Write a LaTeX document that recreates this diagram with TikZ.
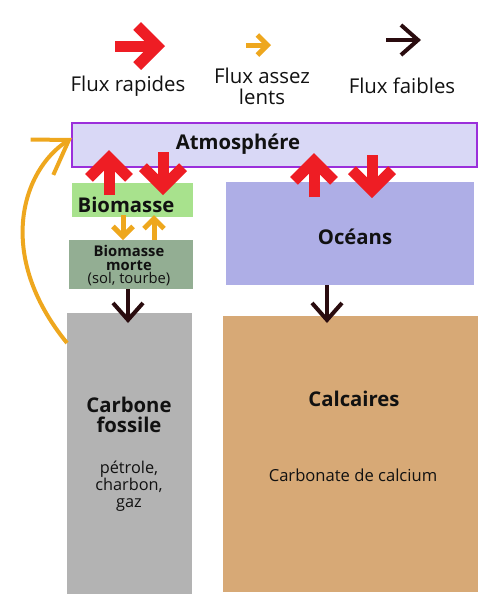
\documentclass[tikz,border=0pt]{standalone}
\usepackage{fontspec}
\setmainfont{Open Sans}
\usetikzlibrary{arrows.meta,positioning}

\definecolor{rouge}{HTML}{EE1D24}
\definecolor{ambre}{HTML}{EEA71E}
\definecolor{brun}{HTML}{2A0C0F}
\definecolor{cadre}{HTML}{9B2FDB}
\definecolor{ciel}{HTML}{D9D8F6}
\definecolor{vert}{HTML}{A8E28D}
\definecolor{sol}{HTML}{93AE93}
\definecolor{fossile}{HTML}{B3B3B3}
\definecolor{mer}{HTML}{AEAEE6}
\definecolor{calcaire}{HTML}{D7A976}
\definecolor{encre}{HTML}{111111}

\tikzset{
  boite/.style={anchor=north west, inner sep=0pt, outer sep=0pt},
  titre/.style={text=encre, font=\fontsize{20.3}{20.5}\selectfont\bfseries, align=center},
  texte/.style={text=encre, font=\fontsize{16.3}{17}\selectfont, align=center},
  legende/.style={text=encre, font=\fontsize{20.4}{21}\selectfont, align=center},
  fluxrapide/.style={draw=rouge, line width=11pt, -{Straight Barb[length=20pt,width=40pt]}},
  fluxlent/.style={draw=ambre, line width=5pt, -{Straight Barb[length=10pt,width=20pt]}},
  fluxfaible/.style={draw=brun, line width=4pt, -{Straight Barb[length=17pt,width=30pt]}}
}

\begin{document}
\begin{tikzpicture}[x=1pt,y=-1pt]
      \useasboundingbox (0, 0) rectangle (500, 606);

      % Legend
      \node[legende] (lrapide) at (128, 86) {Flux rapides};
      \node[legende] (llent) at (262, 86) {Flux assez\\lents};
      \node[legende] (lfaible) at (402, 86) {Flux faibles};
      \draw[fluxrapide] ([shift={(-13,-40)}]lrapide.center) -- ([shift={(37,-40)}]lrapide.center);
      \draw[fluxlent] ([shift={(-16,-41)}]llent.center) -- ([shift={(9,-41)}]llent.center);
      \draw[fluxfaible] ([shift={(-16,-46)}]lfaible.center) -- ([shift={(19,-46)}]lfaible.center);

      % Reservoirs
      \node[boite, fill=ciel, draw=cadre, line width=2pt, minimum width=405, minimum height=44] (atm) at (72, 123) {};
      \node[boite, fill=vert, minimum width=121, minimum height=34] (bio) at (72, 183) {};
      \node[boite, fill=sol, minimum width=124, minimum height=49] (morte) at (69, 240) {};
      \node[boite, fill=fossile, minimum width=125, minimum height=281] (fos) at (67, 313) {};
      \node[boite, fill=mer, minimum width=248, minimum height=103] (ocean) at (226, 182) {};
      \node[boite, fill=calcaire, minimum width=255, minimum height=276] (calc) at (223, 316) {};

      % Labels
      \node[titre] (tatm) at (238, 144) {Atmosphére};
      \node[titre] (tbio) at (126, 205) {Biomasse};
      \node[texte, font=\fontsize{14.8}{13.5}\selectfont] (tmorte) at (129, 266) {\textbf{Biomasse}\\\textbf{morte}\\(sol, tourbe)};
      \node[titre] (tfos) at (129, 415) {Carbone\\fossile};
      \node[texte] (tfos2) at (129, 486) {pétrole,\\charbon,\\gaz};
      \node[titre] (tocean) at (355, 237) {Océans};
      \node[titre] (tcalc) at (354, 399) {Calcaires};
      \node[texte, font=\fontsize{16.6}{17}\selectfont] (tcalc2) at (353, 475) {Carbonate de calcium};

      % Fast fluxes
      \draw[fluxrapide] ([shift={(37,12)}]bio.north west) -- ([shift={(37,27)}]atm.north west);
      \draw[fluxrapide] ([shift={(91,29)}]atm.north west) -- ([shift={(91,12)}]bio.north west);
      \draw[fluxrapide] ([shift={(88,15)}]ocean.north west) -- ([shift={(242,30)}]atm.north west);
      \draw[fluxrapide] ([shift={(300,32)}]atm.north west) -- ([shift={(146,16)}]ocean.north west);

      % Slow fluxes
      \draw[fluxlent] ([shift={(51,32)}]bio.north west) -- ([shift={(54,0)}]morte.north west);
      \draw[fluxlent] ([shift={(85,0)}]morte.north west) -- ([shift={(82,32)}]bio.north west);
      \draw[fluxlent, line width=4pt, -{Straight Barb[length=32pt,width=42pt]}]
        ([shift={(0,30)}]fos.north west) .. controls +(-72,-88) and +(-50,32) .. ([shift={(0,15)}]atm.north west);

      % Weak fluxes
      \draw[fluxfaible] ([shift={(59,49)}]morte.north west) -- ([shift={(61,10)}]fos.north west);
      \draw[fluxfaible] ([shift={(101,103)}]ocean.north west) -- ([shift={(104,7)}]calc.north west);
\end{tikzpicture}
\end{document}
